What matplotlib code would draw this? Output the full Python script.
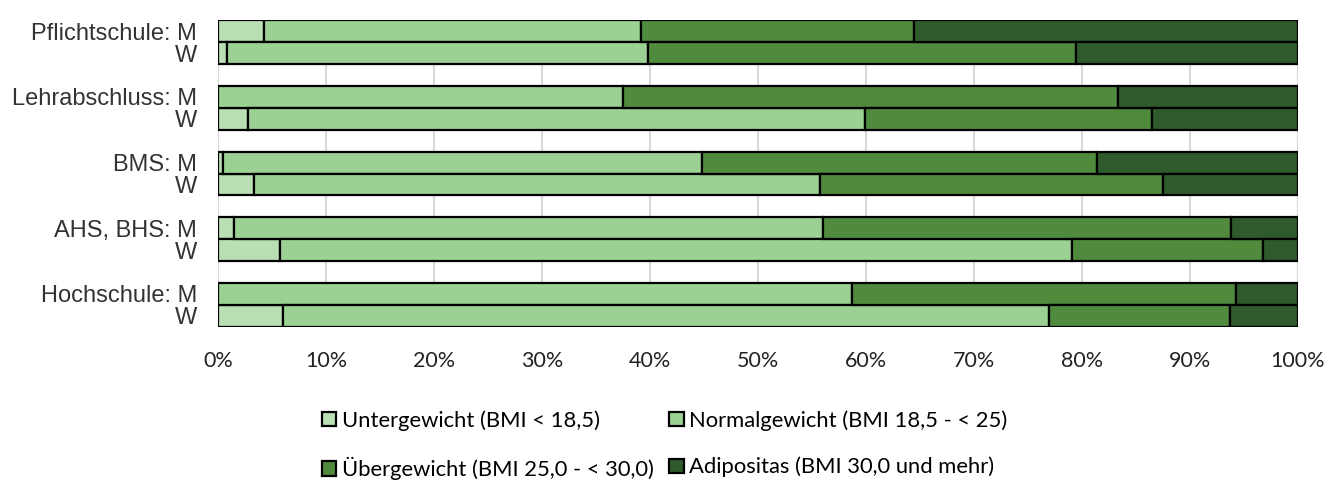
import numpy as np
import matplotlib.pyplot as plt

schools = ["Pflichtschule", "Lehrabschluss", "BMS", "AHS, BHS", "Hochschule"]
row_labels = []
for s in schools:
    row_labels += [f"{s}: M", "W"]

# shares in percent, rows in order M, W per school
untergewicht = [4.3, 0.8, 0.0, 2.8, 0.5, 3.3, 1.5, 5.7, 0.0, 6.0]
normalgewicht = [34.9, 39.0, 37.5, 57.1, 44.3, 52.4, 54.5, 73.4, 58.7, 70.9]
uebergewicht = [25.2, 39.6, 45.8, 26.6, 36.6, 31.8, 37.8, 17.7, 35.6, 16.8]
adipositas = [35.6, 20.6, 16.7, 13.5, 18.6, 12.5, 6.2, 3.2, 5.7, 6.3]

series = [untergewicht, normalgewicht, uebergewicht, adipositas]
names = ["Untergewicht (BMI < 18,5)", "Normalgewicht (BMI 18,5 - < 25)",
         "Übergewicht (BMI 25,0 - < 30,0)", "Adipositas (BMI 30,0 und mehr)"]
colors = ["#badfb4", "#9bd193", "#4f8a3d", "#2e5a2c"]

plt.rcParams['font.family'] = ['Liberation Sans', 'DejaVu Sans']

fig = plt.figure(figsize=(13.28, 4.82), dpi=100)
ax = fig.add_axes([218 / 1328, 155 / 482, 1080 / 1328, 307 / 482])

ypos = np.array([g * 3 + m for g in range(5) for m in range(2)], dtype=float)

left = np.zeros(len(ypos))
handles = []
for vals, name, col in zip(series, names, colors):
    vals = np.array(vals)
    b = ax.barh(ypos, vals, height=1.0, left=left, color=col,
                edgecolor="black", linewidth=1.6, label=name, zorder=3)
    handles.append(b)
    left += vals

ax.set_xlim(0, 100)
ax.set_ylim(13.52, -0.52)
ax.set_yticks(ypos)
ax.set_yticklabels(row_labels, fontsize=17, color="#333333")
ax.set_xticks(np.arange(0, 101, 10))
ax.set_xticklabels([f"{v}%" for v in range(0, 101, 10)], fontsize=15.5,
                   color="#222222", family=["Lato", "DejaVu Sans"])
ax.tick_params(length=0, axis="y", pad=15)
ax.tick_params(length=0, axis="x", pad=17)
ax.grid(axis="x", color="#d9d9d9", linewidth=1.5, zorder=0)
for sp in ax.spines.values():
    sp.set_visible(False)

# legend filled column-wise, so reorder to read row by row
order = [0, 2, 1, 3]
fig.legend(handles=[handles[i] for i in order], labels=[names[i] for i in order],
           loc="center", bbox_to_anchor=(665 / 1328, 1 - 445 / 482), ncol=2,
           frameon=False, prop={"family": ["Lato", "DejaVu Sans"], "size": 15.8},
           handlelength=0.64, handleheight=0.64, handletextpad=0.27,
           columnspacing=0.7, labelspacing=1.2, borderpad=0)

fig.savefig("out.png", dpi=100)
